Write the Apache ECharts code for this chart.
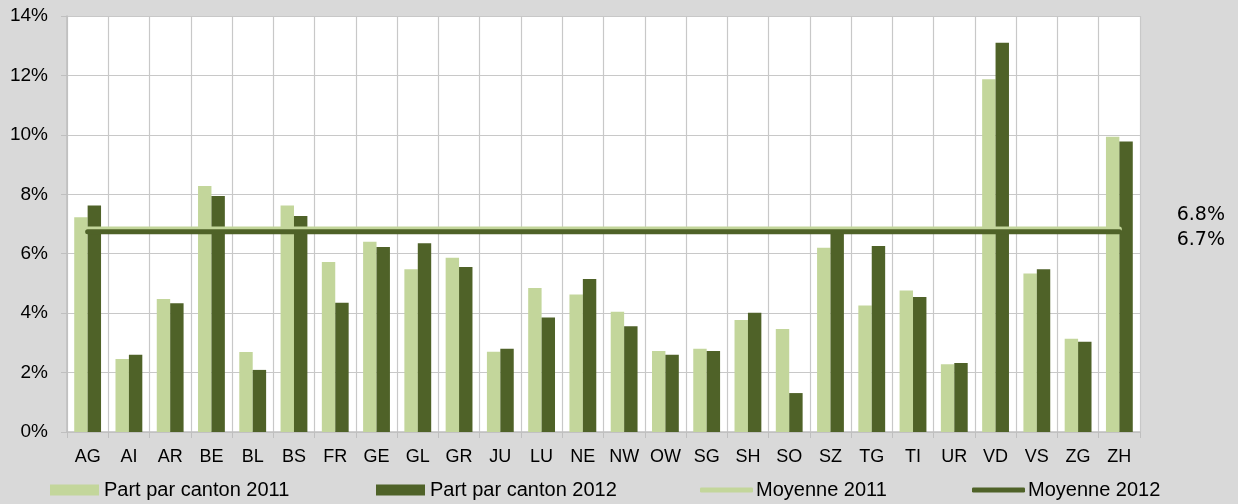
<!DOCTYPE html>
<html>
<head>
<meta charset="utf-8">
<script src="https://cdn.jsdelivr.net/npm/echarts@6/dist/echarts.min.js"></script>
<style>
  html, body { margin: 0; padding: 0; background: #d9d9d9; }
  #main { width: 1238px; height: 504px; }
</style>
</head>
<body>
<div id="main"></div>
<script>
var cantons = ['AG','AI','AR','BE','BL','BS','FR','GE','GL','GR','JU','LU','NE','NW','OW','SG','SH','SO','SZ','TG','TI','UR','VD','VS','ZG','ZH'];
var part2011 = [7.23,2.46,4.48,8.28,2.69,7.62,5.72,6.40,5.48,5.86,2.70,4.85,4.63,4.05,2.73,2.80,3.77,3.47,6.20,4.26,4.76,2.28,11.87,5.33,3.14,9.94];
var part2012 = [7.62,2.60,4.33,7.94,2.09,7.27,4.35,6.23,6.35,5.55,2.80,3.85,5.15,3.56,2.60,2.73,4.01,1.31,6.78,6.26,4.54,2.32,13.10,5.48,3.04,9.78];
var moyenne2011 = 6.83;
var moyenne2012 = 6.74;
var yTicks = [0, 2, 4, 6, 8, 10, 12, 14];

var light = '#c3d69b';
var dark = '#4f6228';
var font = '"Liberation Sans", Arial, sans-serif';

var chart = echarts.init(document.getElementById('main'));

function legendBox(left, name, w, h, color, round) {
    return {
        left: left,
        top: 480,
        padding: 0,
        itemWidth: w,
        itemHeight: h,
        itemGap: 0,
        icon: round ? 'roundRect' : 'rect',
        textStyle: { fontFamily: font, fontSize: 20, color: '#000', padding: [0, 0, 0, round ? -2 : 0] },
        data: [{ name: name, itemStyle: { color: color } }]
    };
}

var option = {
    backgroundColor: '#d9d9d9',
    animation: false,
    grid: {
        left: 67, right: 98, top: 16, bottom: 72,
        show: true, backgroundColor: '#ffffff', borderWidth: 0
    },
    legend: [
        legendBox(50, 'Part par canton 2011', 49, 11, light, false),
        legendBox(376, 'Part par canton 2012', 49, 11, dark, false),
        legendBox(700, 'Moyenne 2011', 53, 5, light, true),
        legendBox(972, 'Moyenne 2012', 53, 5, dark, true)
    ],
    xAxis: {
        type: 'category',
        data: cantons,
        axisLine: { lineStyle: { color: '#bfbfbf', width: 1.5 } },
        axisTick: { show: true, length: 6, lineStyle: { color: '#bfbfbf' } },
        axisLabel: { fontFamily: font, fontSize: 18, color: '#000', margin: 16 },
        splitLine: { show: true, interval: 0, lineStyle: { color: '#c8c8c8', width: 1.2 } }
    },
    yAxis: {
        type: 'value',
        min: yTicks[0],
        max: yTicks[yTicks.length - 1],
        interval: 2,
        axisLine: { show: true, lineStyle: { color: '#bfbfbf', width: 1.5 } },
        axisTick: { show: true, length: 6, lineStyle: { color: '#bfbfbf' } },
        axisLabel: { fontFamily: font, fontSize: 19, color: '#000', margin: 19, formatter: '{value}%' },
        splitLine: { lineStyle: { color: '#c8c8c8', width: 1.2 } }
    },
    series: [
        {
            name: 'Part par canton 2011', type: 'bar', data: part2011,
            barGap: 0, barCategoryGap: '35%',
            itemStyle: { color: light }
        },
        {
            name: 'Part par canton 2012', type: 'bar', data: part2012,
            barGap: 0, barCategoryGap: '35%',
            itemStyle: { color: dark }
        },
        {
            name: 'Moyenne 2011', type: 'line',
            data: cantons.map(function () { return moyenne2011; }),
            showSymbol: false, symbol: 'none',
            lineStyle: { color: light, width: 5, cap: 'round' }
        },
        {
            name: 'Moyenne 2012', type: 'line',
            data: cantons.map(function () { return moyenne2012; }),
            showSymbol: false, symbol: 'none',
            lineStyle: { color: dark, width: 5, cap: 'round' }
        }
    ],
    graphic: [
        {
            type: 'text', right: 13, top: 206,
            style: { text: moyenne2011.toFixed(1) + '%', font: '19px "DejaVu Sans"', fill: '#000' }
        },
        {
            type: 'text', right: 13, top: 231,
            style: { text: moyenne2012.toFixed(1) + '%', font: '19px "DejaVu Sans"', fill: '#000' }
        }
    ]
};

chart.setOption(option);
</script>
</body>
</html>
